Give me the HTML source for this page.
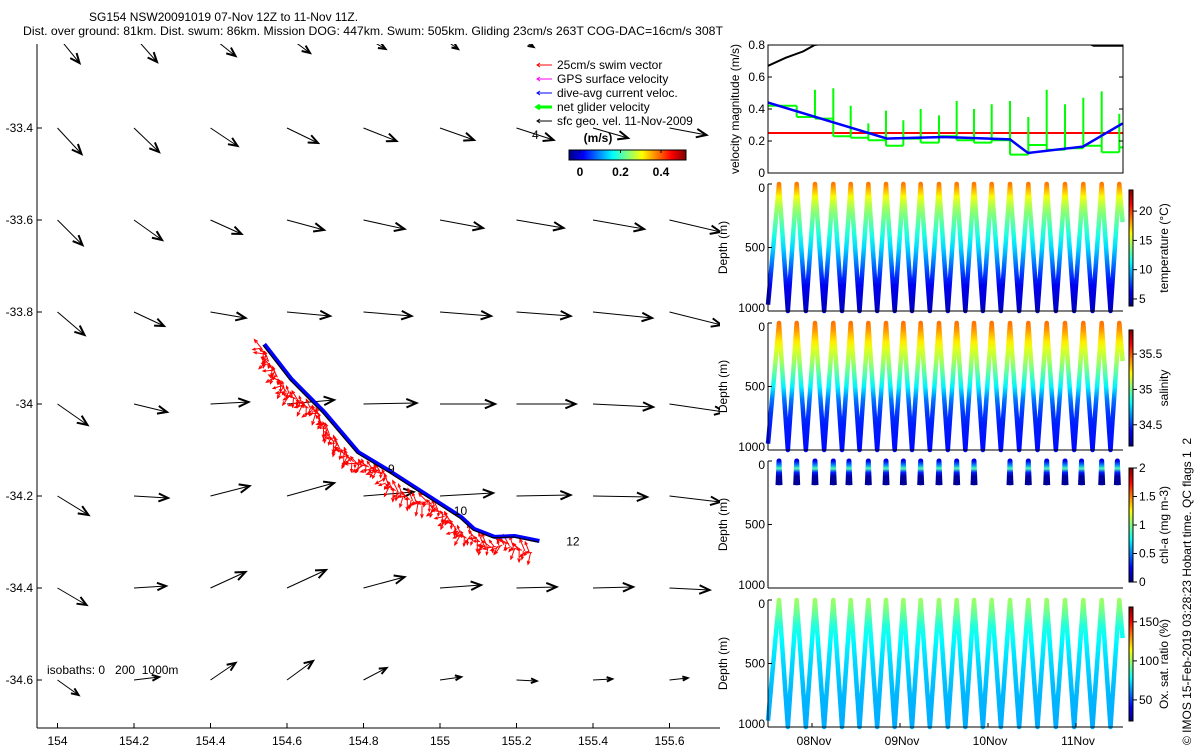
<!DOCTYPE html>
<html><head><meta charset="utf-8">
<style>
html,body{margin:0;padding:0;background:#fff;}
svg{display:block;font-family:"Liberation Sans",sans-serif;}
text{font-size:12px;fill:#000;white-space:pre;}
</style></head>
<body>
<svg id="fig" width="1200" height="750" viewBox="0 0 1200 750" xmlns="http://www.w3.org/2000/svg">
<defs>
<clipPath id="mapClip"><rect x="37" y="44" width="683" height="684"/></clipPath>
<clipPath id="velClip"><rect x="768" y="45" width="355" height="128"/></clipPath>
</defs>
<text x="89" y="21">SG154 NSW20091019 07-Nov 12Z to 11-Nov 11Z.</text>
<text x="23" y="35" textLength="700" lengthAdjust="spacingAndGlyphs">Dist. over ground: 81km. Dist. swum: 86km. Mission DOG: 447km. Swum: 505km. Gliding 23cm/s 263T COG-DAC=16cm/s 308T</text>
<g id="map"></g>
<g id="vel"></g>
<g id="prof"></g>
<text transform="translate(1191,745) rotate(-90)">© IMOS 15-Feb-2019 03:28:23 Hobart time. QC flags 1  2</text>
</svg>
<script>
// ---------- MAP DATA ----------
const gridLon = [154,154.2,154.4,154.6,154.8,155,155.2,155.4,155.6];
const gridLat = [-33.2,-33.4,-33.6,-33.8,-34.0,-34.2,-34.4,-34.6];
// geostrophic velocity, east (u) and north (v) components, cm/s
const geoU = [
 [22,23,25,23,22,18,17,15,15],
 [24,25,27,31,33,34,37,35,37],
 [25,28,31,37,41,43,47,51,51],
 [27,30,35,43,48,51,54,59,52],
 [30,33,38,47,53,55,59,60,55],
 [31,34,39,47,50,53,54,54,51],
 [29,32,35,39,41,41,40,40,40],
 [21,25,25,26,23,21,20,19,18]];
const geoV = [
 [-27,-26,-20,-17,-13,-13,-11,-6,-6],
 [-26,-24,-18,-15,-13,-12,-12,-10,-7],
 [-25,-20,-14,-10,-9,-8,-8,-9,-12],
 [-23,-14,-6,-4,-4,-4,-4,-6,-13],
 [-21,-8,2,4,1,0,0,-3,-8],
 [-19,-2,10,13,4,3,1,-1,-6],
 [-17,2,16,18,11,3,1,1,-2],
 [-15,3,17,19,12,3,-1,1,2]];
const trackLon = [154.537,154.608,154.694,154.783,154.869,154.966,155.052,155.086,155.139,155.191,155.256];
const trackLat = [-33.872,-33.948,-34.020,-34.107,-34.150,-34.202,-34.248,-34.274,-34.291,-34.289,-34.300];
const dayLabels = ["9","10","12"];
const dayLabelLon = [154.864,155.036,155.330];
const dayLabelLat = [-34.141,-34.233,-34.299];
const lonTicks = [154,154.2,154.4,154.6,154.8,155,155.2,155.4,155.6];
const latTicks = [-33.4,-33.6,-33.8,-34,-34.2,-34.4,-34.6];

// ---------- VELOCITY DATA ----------
const velTicks = [0,0.2,0.4,0.6,0.8];
const geoSpeedT = [0.5,0.7,0.9,1.03,1.5,3.0,4.1,4.2,4.53];
const geoSpeedV = [0.67,0.72,0.76,0.80,0.84,0.86,0.82,0.795,0.795];
const swimSpeed = 0.25;
const dacT = [0.5,1.852,2.5,3.25,3.455,4.08,4.53];
const dacV = [0.44,0.215,0.225,0.21,0.125,0.165,0.31];
const diveEndT = [0.826,1.034,1.242,1.440,1.640,1.841,2.038,2.235,2.443,2.644,2.841,3.042,3.25,3.458,3.667,3.875,4.083,4.292,4.492];
const netLevel = [0.42,0.35,0.34,0.23,0.22,0.205,0.17,0.215,0.19,0.23,0.205,0.19,0.205,0.115,0.175,0.145,0.155,0.17,0.13,0.16];
const netSpike = [0.42,0.52,0.53,0.42,0.31,0.39,0.33,0.40,0.36,0.45,0.40,0.43,0.45,0.35,0.52,0.43,0.47,0.51,0.37];

// ---------- PROFILE DATA ----------
const surfT = [0.625,0.826,1.034,1.242,1.440,1.640,1.841,2.038,2.235,2.443,2.644,2.841,3.042,3.25,3.458,3.667,3.875,4.083,4.292,4.492];
const chlT = [0.625,0.826,1.034,1.242,1.420,1.640,1.841,2.038,2.235,2.443,2.644,2.841,3.25,3.458,3.667,3.875,4.063,4.292,4.470];
const profDepth = [0,50,100,150,200,300,400,500,600,700,800,1000];
const tempVal = [18.8,17.5,16,15,14.2,13,11.8,10.5,9,7.5,6,5];
const salVal = [35.45,35.4,35.32,35.25,35.18,35.08,34.95,34.8,34.6,34.5,34.45,34.42];
const oxVal = [100,97,93,88,83,78,75,72,70,68,67,66];
const chlDepth = [0,30,60,90,120,200];
const chlVal = [0.2,0.5,0.9,0.3,0.06,0.04];
const dayTicks = [1,2,3,4];
const dayTickLabels = ["08Nov","09Nov","10Nov","11Nov"];

const NS="http://www.w3.org/2000/svg";
function mk(tag, attrs, parent){const e=document.createElementNS(NS,tag);for(const k in attrs)e.setAttribute(k,attrs[k]);parent.appendChild(e);return e;}
function jet(f){f=Math.max(0,Math.min(1,f));const c=x=>Math.round(255*Math.max(0,Math.min(1,1.5-Math.abs(x))));return `rgb(${c(4*f-3)},${c(4*f-2)},${c(4*f-1)})`;}

// ---------- MAP ----------
const map=document.getElementById('map');
const lx=lon=>57.5+(lon-154)*382.5;
const ly=lat=>128+(-33.4-lat)*460;
const mapG=mk('g',{'clip-path':'url(#mapClip)'},map);
function arrow(parent,x,y,dx,dy,color,sw,hw,hmax){
  const L=Math.hypot(dx,dy); if(L<0.1)return null;
  const g=mk('g',{},parent);
  mk('line',{x1:x,y1:y,x2:x+dx,y2:y+dy,stroke:color,'stroke-width':sw},g);
  const h=Math.max(3,Math.min(hmax||11,0.3*L)),a=Math.atan2(dy,dx),tx=x+dx,ty=y+dy;
  const p=[[tx-h*Math.cos(a-0.4),ty-h*Math.sin(a-0.4)],[tx,ty],[tx-h*Math.cos(a+0.4),ty-h*Math.sin(a+0.4)]];
  mk('polyline',{points:p.map(q=>q.join(',')).join(' '),fill:'none',stroke:color,'stroke-width':hw},g);
  return g;
}
for(let r=0;r<gridLat.length;r++)for(let c=0;c<gridLon.length;c++){
  const g=arrow(mapG,lx(gridLon[c]),ly(gridLat[r]),geoU[r][c],-geoV[r][c],'#000',1,2);
  if(g){
  }
}
const trk=trackLon.map((lo,i)=>[lx(lo),ly(trackLat[i])]);
const swimG=mk('g',{},mapG);


for(let i=0;i<trk.length-1;i++){
  const [x0,y0]=trk[i],[x1,y1]=trk[i+1];const n=Math.max(4,Math.round(Math.hypot(x1-x0,y1-y0)/1.5));
  for(let k=0;k<n;k++){const f=k/n,x=x0+(x1-x0)*f,y=y0+(y1-y0)*f;
    const ang=Math.PI*(0.95+0.45*Math.sin(i*7.1+k*2.3));
    const L=9+4*Math.sin(k*1.7+i*0.9);
    const off=3+8*Math.abs(Math.sin(k*3.1+i*1.3));
    arrow(swimG,x-off*0.4,y+off,L*Math.cos(ang),L*Math.sin(ang),'#ff0000',1,1,4);}
}
const dac=mk('polyline',{points:trk.map(p=>(p[0]+1.5)+','+(p[1]-1)).join(' '),fill:'none',stroke:'#0000ff','stroke-width':4,'stroke-linejoin':'round'},mapG);


const tl=mk('polyline',{points:trk.map(p=>p.join(',')).join(' '),fill:'none',stroke:'#000','stroke-width':1.2},mapG);


dayLabels.forEach((s,i)=>{const t=mk('text',{x:lx(dayLabelLon[i]),y:ly(dayLabelLat[i])+4},map);t.textContent=s;
  
  });
mk('line',{x1:37,y1:44,x2:37,y2:728,stroke:'#000'},map);
mk('line',{x1:37,y1:728,x2:720,y2:728,stroke:'#000'},map);
latTicks.forEach(v=>{const y=ly(v);mk('line',{x1:37,y1:y,x2:42,y2:y,stroke:'#000'},map);
  const t=mk('text',{x:33,y:y+4,'text-anchor':'end'},map);t.textContent=String(v);
  
  });
lonTicks.forEach(v=>{const x=lx(v);mk('line',{x1:x,y1:728,x2:x,y2:723,stroke:'#000'},map);
  const t=mk('text',{x:x,y:745,'text-anchor':'middle'},map);t.textContent=String(v);
  
  });
{const t=mk('text',{x:47,y:674},map);t.textContent='isobaths: 0   200  1000m';
 
 }
{const t=mk('text',{x:532,y:139},map);t.textContent='4';}
const legTxt=['25cm/s swim vector','GPS surface velocity','dive-avg current veloc.','net glider velocity','sfc geo. vel. 11-Nov-2009'];
const legCol=['#ff0000','#ff00ff','#0000ff','#00ff00','#000000'];
const legG=mk('g',{},map);


legTxt.forEach((s,i)=>{const y=65+i*14;const e=mk('g',{},legG);
  
  
  const w=i==3?3:1;
  mk('line',{x1:537,y1:y,x2:552,y2:y,stroke:legCol[i],'stroke-width':w},e);
  mk('polyline',{points:`540,${y-2} 537,${y} 540,${y+2}`,fill:'none',stroke:legCol[i],'stroke-width':w},e);
  const t=mk('text',{x:557,y:y+4},e);t.textContent=s;});
const gm=mk('linearGradient',{id:'jetH',x1:0,y1:0,x2:1,y2:0},document.querySelector('defs'));
for(let i=0;i<=16;i++)mk('stop',{offset:i/16,'stop-color':jet(i/16)},gm);
const cbm=mk('rect',{x:569,y:150,width:117,height:10,fill:'url(#jetH)',stroke:'#000','stroke-width':1},map);


{const t=mk('text',{x:598,y:142,'text-anchor':'middle','font-weight':'bold'},map);t.textContent='(m/s)';}
[0,0.2,0.4].forEach(v=>{const x=580+v*202.5;const t=mk('text',{x:x,y:176,'text-anchor':'middle','font-weight':'bold'},map);t.textContent=String(v);
 mk('line',{x1:x,y1:150,x2:x,y2:153,stroke:'#000'},map);});

// ---------- VELOCITY PANEL ----------
const vel=document.getElementById('vel');
const tx=t=>768+(t-0.5)*88;
const vy=v=>173-v*160;
const vg=mk('g',{'clip-path':'url(#velClip)'},vel);
const geoL=mk('polyline',{points:geoSpeedT.map((t,i)=>tx(t)+','+vy(geoSpeedV[i])).join(' '),fill:'none',stroke:'#000','stroke-width':2},vg);


const sw=mk('line',{x1:tx(0.5),y1:vy(swimSpeed),x2:tx(4.53),y2:vy(swimSpeed),stroke:'#ff0000','stroke-width':2},vg);


const bounds=[0.5,...diveEndT,4.53];
let gd='';
for(let i=0;i<netLevel.length;i++){gd+=`M${tx(bounds[i])},${vy(netLevel[i])}H${tx(bounds[i+1])}`;
  if(i<netSpike.length){const lo=Math.min(netLevel[i],netLevel[i+1]);gd+=`M${tx(bounds[i+1])},${vy(lo)}V${vy(netSpike[i])}`;}}
const net=mk('path',{d:gd,fill:'none',stroke:'#00ff00','stroke-width':2},vg);


const dl=mk('polyline',{points:dacT.map((t,i)=>tx(t)+','+vy(dacV[i])).join(' '),fill:'none',stroke:'#0000ff','stroke-width':2.5},vg);


mk('rect',{x:768,y:45,width:355,height:128,fill:'none',stroke:'#000'},vel);
velTicks.forEach(v=>{const y=vy(v);mk('line',{x1:768,y1:y,x2:772,y2:y,stroke:'#000'},vel);mk('line',{x1:1123,y1:y,x2:1119,y2:y,stroke:'#000'},vel);
  const t=mk('text',{x:765,y:y+4,'text-anchor':'end'},vel);t.textContent=String(v);
  
  });
{const t=mk('text',{transform:'translate(739,109) rotate(-90)','text-anchor':'middle'},vel);t.textContent='velocity magnitude (m/s)';
 
 }

// ---------- PROFILE PANELS ----------
const prof=document.getElementById('prof');
const defs=document.querySelector('defs');
const panels=[
 {top:184,name:'temperature',label:'temperature (°C)',vals:tempVal,depths:profDepth,min:3.8,max:23.6,ticks:[5,10,15,20],cbTop:190,cbBot:306},
 {top:323,name:'salinity',label:'salinity',vals:salVal,depths:profDepth,min:34.2,max:35.84,ticks:[34.5,35,35.5],cbTop:330,cbBot:446},
 {top:461,name:'chlorophyll',label:'chl-a (mg m-3)',vals:chlVal,depths:chlDepth,min:0,max:2,ticks:[0,0.5,1,1.5,2],cbTop:468,cbBot:582,chl:true},
 {top:600,name:'oxygen',label:'Ox. sat. ratio (%)',vals:oxVal,depths:profDepth,min:23,max:169,ticks:[50,100,150],cbTop:607,cbBot:721}];
panels.forEach((p,pi)=>{
  const g=mk('g',{},prof);
  
  
  const H=127, dy=d=>p.top+d/1000*H;
  const gr=mk('linearGradient',{id:'g'+pi,gradientUnits:'userSpaceOnUse',x1:0,y1:p.top,x2:0,y2:p.top+H},defs);
  p.depths.forEach((d,i)=>mk('stop',{offset:d/1000,'stop-color':jet((p.vals[i]-p.min)/(p.max-p.min))},gr));
  if(p.chl){
    chlT.forEach(t=>{const x=tx(t);const l=mk('polyline',{points:`${x-1},${dy(190)} ${x},${dy(0)} ${x+1},${dy(190)}`,fill:'none',stroke:'url(#g'+pi+')','stroke-width':5,'stroke-linejoin':'round'},g);
      
      });
  }else{
    const pts=[[0.5,950]];
    surfT.forEach((s,i)=>{pts.push([s,0]);if(i<surfT.length-1)pts.push([(s+surfT[i+1])/2,1000]);});
    pts.push([4.53,300]);
    const l=mk('polyline',{points:pts.map(q=>tx(q[0])+','+dy(q[1])).join(' '),fill:'none',stroke:'url(#g'+pi+')','stroke-width':4.5,'stroke-linejoin':'round'},g);
    
    
  }
  mk('line',{x1:768,y1:p.top,x2:768,y2:p.top+H,stroke:'#000'},g);
  mk('line',{x1:768,y1:p.top+H,x2:1123,y2:p.top+H,stroke:'#000'},g);
  [0,500,1000].forEach(d=>{mk('line',{x1:768,y1:dy(d),x2:772,y2:dy(d),stroke:'#000'},g);
    const t=mk('text',{x:765,y:dy(d)+(d==0?8:d==1000?1:4),'text-anchor':'end'},g);t.textContent=String(d);
    
    });
  const yt=mk('text',{transform:`translate(727,${p.top+H/2}) rotate(-90)`,'text-anchor':'middle'},g);yt.textContent='Depth (m)';
  
  
  const cg=mk('linearGradient',{id:'cb'+pi,x1:0,y1:1,x2:0,y2:0},defs);
  for(let i=0;i<=16;i++)mk('stop',{offset:i/16,'stop-color':jet(i/16)},cg);
  const cb=mk('rect',{x:1129,y:p.cbTop,width:4,height:p.cbBot-p.cbTop,fill:'url(#cb'+pi+')',stroke:'#000','stroke-width':1},g);
  
  
  const cy=v=>p.cbBot-(v-p.min)/(p.max-p.min)*(p.cbBot-p.cbTop);
  p.ticks.forEach(v=>{mk('line',{x1:1133,y1:cy(v),x2:1137,y2:cy(v),stroke:'#000'},g);
    const t=mk('text',{x:1139,y:cy(v)+4},g);t.textContent=String(v);
    
    });
  const ct=mk('text',{transform:`translate(1168,${(p.cbTop+p.cbBot)/2}) rotate(-90)`,'text-anchor':'middle'},g);ct.textContent=p.label;
  
  
});
dayTicks.forEach((d,i)=>{const x=tx(d);mk('line',{x1:x,y1:727,x2:x,y2:723,stroke:'#000'},prof);
  const t=mk('text',{x:x+2,y:745,'text-anchor':'middle'},prof);t.textContent=dayTickLabels[i];
  
  });
</script>
</body></html>
